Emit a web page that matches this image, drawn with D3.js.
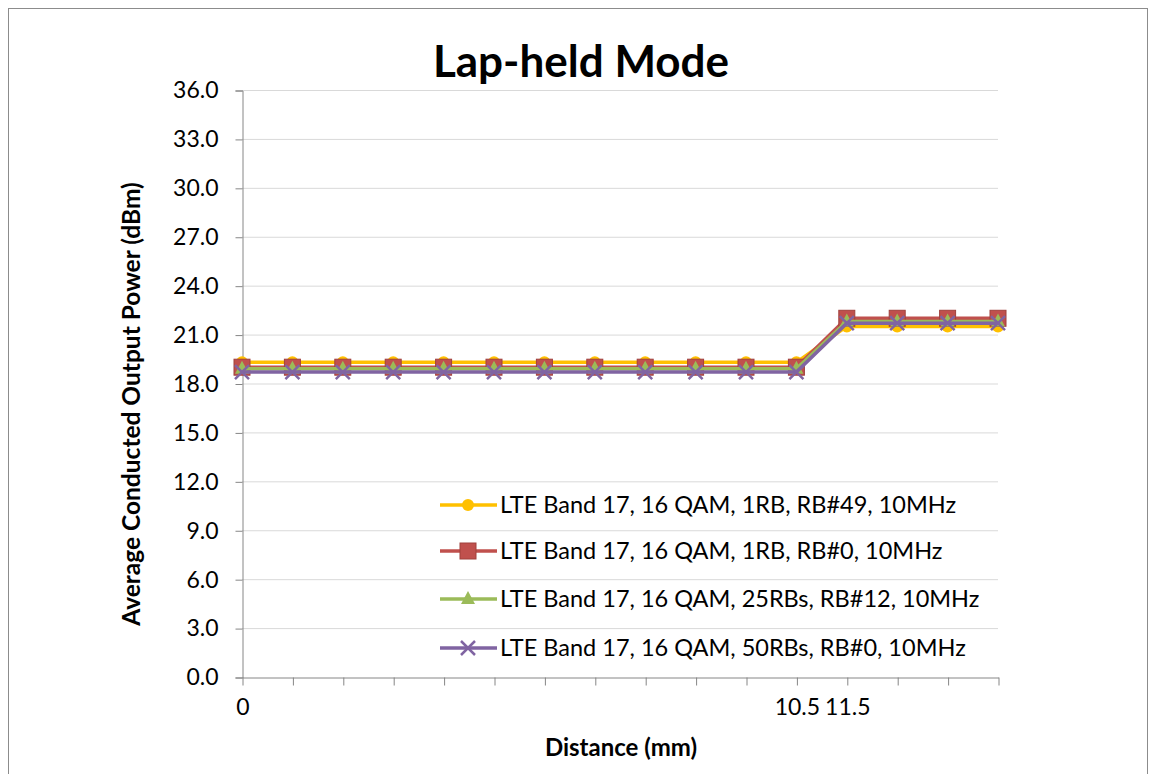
<!DOCTYPE html>
<html>
<head>
<meta charset="utf-8">
<script src="https://cdn.jsdelivr.net/npm/d3@7"></script>
<style>
body { margin: 0; background: #fff; }
text { font-family: Lato, "Open Sans", sans-serif; fill: #000; }
</style>
</head>
<body>
<div id="chart"></div>
<script>
// categories along x (most have empty labels)
var distLabels = ["0", "", "", "", "", "", "", "", "", "", "", "10.5", "11.5", "", "", ""];

// series values (dBm)
var rb49 = [19.3, 19.3, 19.3, 19.3, 19.3, 19.3, 19.3, 19.3, 19.3, 19.3, 19.3, 19.3, 21.5, 21.5, 21.5, 21.5];
var rb0 = [19.0, 19.0, 19.0, 19.0, 19.0, 19.0, 19.0, 19.0, 19.0, 19.0, 19.0, 19.0, 22.0, 22.0, 22.0, 22.0];
var rb25 = [18.9, 18.9, 18.9, 18.9, 18.9, 18.9, 18.9, 18.9, 18.9, 18.9, 18.9, 18.9, 21.8, 21.8, 21.8, 21.8];
var rb50 = [18.7, 18.7, 18.7, 18.7, 18.7, 18.7, 18.7, 18.7, 18.7, 18.7, 18.7, 18.7, 21.7, 21.7, 21.7, 21.7];

var seriesNames = [
  "LTE Band 17, 16 QAM, 1RB, RB#49, 10MHz",
  "LTE Band 17, 16 QAM, 1RB, RB#0, 10MHz",
  "LTE Band 17, 16 QAM, 25RBs, RB#12, 10MHz",
  "LTE Band 17, 16 QAM, 50RBs, RB#0, 10MHz"
];
var yTicks = [0, 3, 6, 9, 12, 15, 18, 21, 24, 27, 30, 33, 36];

var w = 1154, h = 774;

var series = [
  { name: seriesNames[0], values: rb49, color: "#FFC000", marker: "circle" },
  { name: seriesNames[1], values: rb0, color: "#C0504D", marker: "square" },
  { name: seriesNames[2], values: rb25, color: "#9BBB59", marker: "triangle" },
  { name: seriesNames[3], values: rb50, color: "#8064A2", marker: "x" }
];

var svg = d3.select("#chart")
  .append("svg")
  .attr("width", w)
  .attr("height", h);

// chart frame
svg.append("rect")
  .attr("x", 8.5).attr("y", 8.5)
  .attr("width", 1139).attr("height", 780)
  .attr("fill", "#fff")
  .attr("stroke", "#8c8c8c");

// scales
var x = d3.scalePoint()
  .domain(d3.range(distLabels.length))
  .range([242, 998]);

var y = d3.scaleLinear()
  .domain([0, 36])
  .range([677, 90]);

// gridlines
svg.append("g")
  .selectAll("line")
  .data(yTicks.slice(1))
  .join("line")
  .attr("x1", 242).attr("x2", 998)
  .attr("y1", function(d) { return y(d) + 0.5; })
  .attr("y2", function(d) { return y(d) + 0.5; })
  .attr("stroke", "#d9d9d9");

// y axis
var yAxis = svg.append("g")
  .attr("transform", "translate(242.5,0.5)")
  .call(d3.axisLeft(y).tickValues(yTicks).tickFormat(d3.format(".1f")).tickSize(7).tickPadding(17));
yAxis.select(".domain").attr("stroke", "#868686");
yAxis.selectAll(".tick line").attr("stroke", "#868686");
yAxis.selectAll("text")
  .style("font-size", "23px")
  .attr("fill", "#000");

// x axis
var xAxis = svg.append("g")
  .attr("transform", "translate(0.5,677.5)")
  .call(d3.axisBottom(x).tickFormat(function(i) { return distLabels[i]; }).tickSize(8).tickPadding(13).tickSizeOuter(0));
xAxis.select(".domain").attr("stroke", "#868686");
xAxis.selectAll(".tick line").attr("stroke", "#868686");
xAxis.selectAll("text")
  .style("font-size", "23px")
  .attr("fill", "#000");

// markers
function drawMarker(g, type, color) {
  if (type === "circle") {
    g.append("circle").attr("r", 6).attr("fill", color);
  } else if (type === "square") {
    g.append("rect").attr("x", -8).attr("y", -8).attr("width", 16).attr("height", 16)
      .attr("fill", color).attr("stroke", "#a0403d");
  } else if (type === "triangle") {
    g.append("path").attr("d", "M0,-8L7,5L-7,5Z").attr("fill", color);
  } else {
    g.append("path").attr("d", "M-7,-7L7,7M-7,7L7,-7")
      .attr("stroke", color).attr("stroke-width", 2.5).attr("fill", "none");
  }
}

var line = d3.line()
  .x(function(d, i) { return x(i); })
  .y(function(d) { return y(d); });

series.forEach(function(s) {
  var g = svg.append("g");
  g.append("path")
    .datum(s.values)
    .attr("d", line)
    .attr("fill", "none")
    .attr("stroke", s.color)
    .attr("stroke-width", 3.5);
  s.values.forEach(function(v, i) {
    var m = g.append("g").attr("transform", "translate(" + x(i) + "," + y(v) + ")");
    drawMarker(m, s.marker, s.color);
  });
});

// legend
var legY = [505, 551, 599, 648];
series.forEach(function(s, i) {
  var lg = svg.append("g").attr("transform", "translate(0," + legY[i] + ")");
  lg.append("line")
    .attr("x1", 440).attr("x2", 497)
    .attr("stroke", s.color).attr("stroke-width", 3.5);
  var m = lg.append("g").attr("transform", "translate(468,0)");
  drawMarker(m, s.marker, s.color);
  lg.append("text")
    .attr("x", 500).attr("y", 8)
    .style("font-size", "23.5px")
    .text(s.name);
});

// title
svg.append("text")
  .attr("x", 581).attr("y", 77)
  .attr("text-anchor", "middle")
  .style("font-size", "44px")
  .style("font-weight", "bold")
  .text("Lap-held Mode");

// axis titles
svg.append("text")
  .attr("transform", "translate(140,404) rotate(-90)")
  .attr("text-anchor", "middle")
  .style("font-size", "24.5px")
  .style("font-weight", "bold")
  .text("Average Conducted Output  Power (dBm)");

svg.append("text")
  .attr("x", 621).attr("y", 756)
  .attr("text-anchor", "middle")
  .style("font-size", "24px")
  .style("font-weight", "bold")
  .text("Distance (mm)");
</script>
</body>
</html>
